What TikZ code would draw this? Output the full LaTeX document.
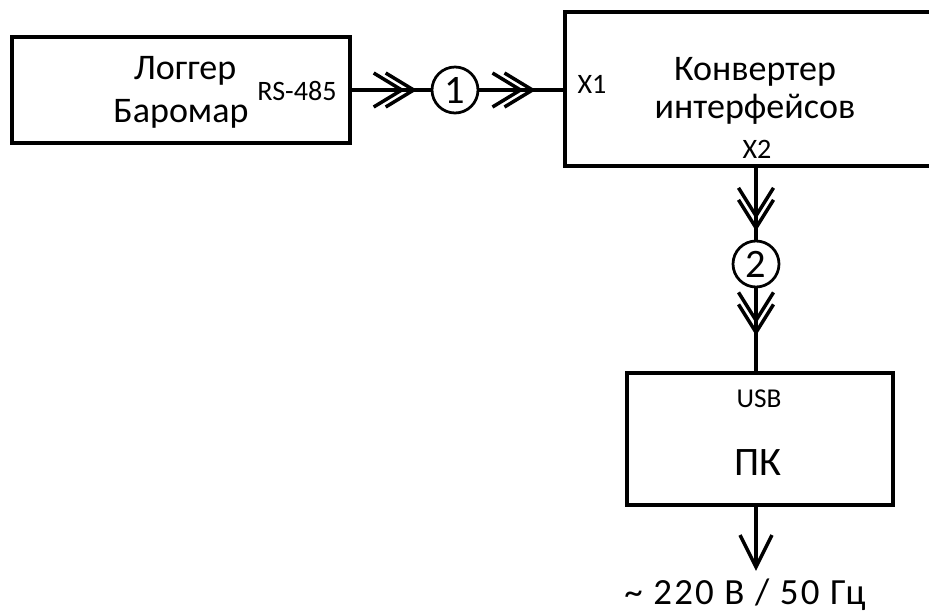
\documentclass[tikz,border=0pt]{standalone}
\usepackage{fontspec}
\setmainfont{Carlito}
\newfontfamily\spacedfont[LetterSpace=6]{Carlito}
\begin{document}
\begin{tikzpicture}[x=0.02cm, y=-0.02cm,
  box/.style={draw, line width=0.08cm, inner sep=0, outer sep=0},
  wire/.style={line width=0.07cm},
  num/.style={circle, draw, line width=0.055cm, minimum size=0.92cm,
    inner sep=0, font=\fontsize{23}{23}\selectfont},
  lbl/.style={anchor=base, inner sep=0},
  chevr/.pic={\draw[line width=0.07cm] (-40,-17) -- (-12,0) -- (-40,17)
                                       (-28,-17) -- (0,0) -- (-28,17);},
  chevd/.pic={\draw[line width=0.07cm] (-17.5,-40) -- (0,-12) -- (17.5,-40)
                                       (-17.5,-28) -- (0,0) -- (17.5,-28);},
  chevs/.pic={\draw[line width=0.07cm] (-16,-32) -- (0,0) -- (16,-32);}
]
\clip (0,0) rectangle (929,612);

% blocks
\node[box, minimum width=6.76cm, minimum height=2.12cm] (logger) at (181,90) {};
\node[box, minimum width=7.64cm, minimum height=3.08cm] (conv) at (756,89) {};
\node[box, minimum width=5.32cm, minimum height=2.64cm] (pc) at (760,439) {};

% numbered interface marks
\node[num] (c1) at (455,90) {1};
\node[num] (c2) at (756,264) {2};
\coordinate (mains) at (756,567);

% block texts
\node[lbl, font=\fontsize{20.5}{22}\selectfont] (tlog) at (185,79) {Логгер};
\node[lbl, font=\fontsize{20.5}{22}\selectfont] (tbar) at (181,122) {Баромар};
\node[lbl, font=\fontsize{16}{18}\selectfont] (trs) at (297,100) {RS-485};
\node[lbl, font=\fontsize{20.5}{22}\selectfont] (tconv) at (755,80) {Конвертер};
\node[lbl, font=\fontsize{20.5}{22}\selectfont] (tintf) at (755,118) {интерфейсов};
\node[lbl, font=\fontsize{16}{18}\selectfont] (tx1) at (592,93) {X1};
\node[lbl, font=\fontsize{16}{18}\selectfont] (tx2) at (757,158) {X2};
\node[lbl, font=\fontsize{15.5}{18}\selectfont] (tusb) at (759,407) {USB};
\node[lbl, font=\fontsize{23}{25}\selectfont] (tpc) at (758,475) {ПК};
\node[lbl, font=\spacedfont\fontsize{21}{23}\selectfont] (tmains) at (745,604) {\~{} 220 В / 50 Гц};

% links
\draw[wire] (logger.east |- c1) -- pic[pos=0.79]{chevr} (c1.west);
\draw[wire] (c1.east) -- pic[pos=0.62]{chevr} (conv.west |- c1);
\draw[wire] (conv.south -| c2) -- pic[pos=0.84]{chevd} (c2.north);
\draw[wire] (c2.south) -- pic[pos=0.52]{chevd} (c2.south |- pc.north);
\draw[wire] (mains |- pc.south) -- pic[pos=1]{chevs} (mains);
\end{tikzpicture}
\end{document}
